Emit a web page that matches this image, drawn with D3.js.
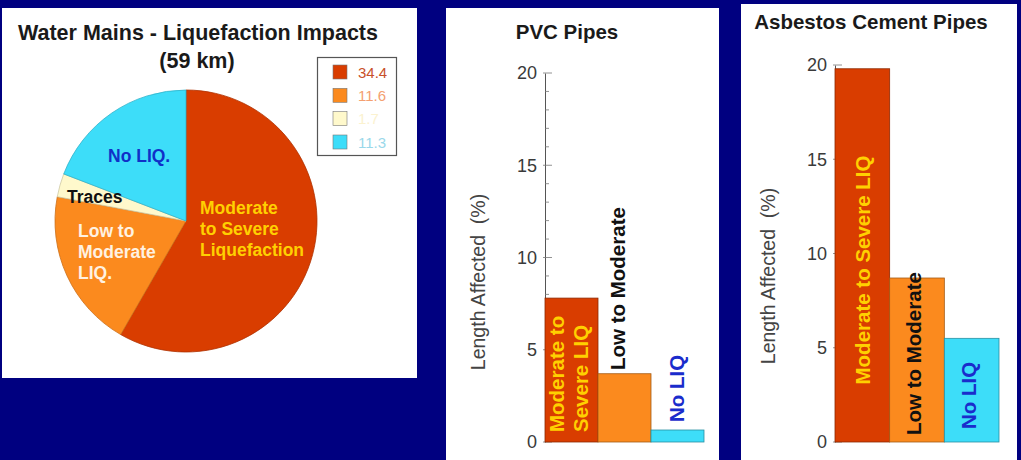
<!DOCTYPE html>
<html>
<head>
<meta charset="utf-8">
<script src="https://cdn.jsdelivr.net/npm/d3@7/dist/d3.min.js"></script>
<style>
  html, body { margin: 0; padding: 0; background: #000080; }
  svg { display: block; }
  text { font-family: "Liberation Sans", Arial, sans-serif; white-space: pre; }
</style>
</head>
<body>
<svg id="chart" width="1021" height="460"></svg>
<script>
// Water mains by liquefaction class (km of 59 km total)
const pieCategories = ["Moderate to Severe", "Low to Moderate", "Traces", "No LIQ"];
const pieValues = [34.4, 11.6, 1.7, 11.3];
const pieLegendLabels = ["34.4", "11.6", "1.7", "11.3"];

// Length affected (%) by pipe material
const barCategories = ["Moderate to Severe LIQ", "Low to Moderate", "No LIQ"];
const pvcValues = [7.8, 3.7, 0.65];
const acValues = [19.8, 8.7, 5.5];
const yTicks = [0, 5, 10, 15, 20];

const fills = ["#d93d00", "#fb8a1e", "#fff9cc", "#3dddf9"];
const legendText = ["#c8502a", "#f4a070", "#fbf2cf", "#9ad8ea"];

const svg = d3.select("#chart");

// white panels
const panels = [
  { x: 2, y: 8, w: 415, h: 370 },
  { x: 446, y: 8, w: 273, h: 460 },
  { x: 741, y: 4, w: 276, h: 460 }
];
svg.selectAll("rect.panel").data(panels).join("rect")
  .attr("class", "panel")
  .attr("x", d => d.x).attr("y", d => d.y)
  .attr("width", d => d.w).attr("height", d => d.h)
  .attr("fill", "#ffffff");

// ---------- pie ----------
const pieG = svg.append("g").attr("transform", "translate(186,221)");
const pie = d3.pie().sort(null).value(d => d)(pieValues);
const arc = d3.arc().innerRadius(0).outerRadius(131);
pieG.selectAll("path").data(pie).join("path")
  .attr("d", arc)
  .attr("fill", (d, i) => fills[i])
  .attr("stroke", (d, i) => d3.color(fills[i]).darker(0.6))
  .attr("stroke-width", 0.8);

svg.append("text").attr("x", 198).attr("y", 40).attr("text-anchor", "middle")
  .attr("font-size", 21.5).attr("font-weight", "bold").attr("fill", "#1a1a1a")
  .text("Water Mains - Liquefaction Impacts");
svg.append("text").attr("x", 197).attr("y", 68).attr("text-anchor", "middle")
  .attr("font-size", 21.5).attr("font-weight", "bold").attr("fill", "#1a1a1a")
  .text("(59 km)");

const sliceLabels = [
  { lines: ["Moderate", "to Severe", "Liquefaction"], x: 200, y: 214, color: "#ffd000" },
  { lines: ["Low to", "Moderate", "LIQ."], x: 78, y: 237, color: "#fff2e2" },
  { lines: ["Traces"], x: 67, y: 203, color: "#111111" },
  { lines: ["No LIQ."], x: 108, y: 162, color: "#1030c8" }
];
sliceLabels.forEach(s => {
  const t = svg.append("text").attr("x", s.x).attr("y", s.y)
    .attr("font-size", 17.5).attr("font-weight", "bold").attr("fill", s.color);
  s.lines.forEach((l, i) => t.append("tspan").attr("x", s.x).attr("dy", i ? 21 : 0).text(l));
});

// legend
svg.append("rect").attr("x", 317.5).attr("y", 57.5).attr("width", 79).attr("height", 98)
  .attr("fill", "#ffffff").attr("stroke", "#555").attr("stroke-width", 1.2);
const legendY = d3.scalePoint().domain(pieCategories).range([72, 142]);
const lg = svg.append("g");
lg.selectAll("rect").data(pieCategories).join("rect")
  .attr("x", 333).attr("y", d => legendY(d) - 7).attr("width", 14).attr("height", 14)
  .attr("fill", (d, i) => fills[i]).attr("stroke", "#777").attr("stroke-width", 0.6);
lg.selectAll("text").data(pieCategories).join("text")
  .attr("x", 358).attr("y", d => legendY(d) + 5.5)
  .attr("font-size", 15).attr("fill", (d, i) => legendText[i])
  .text((d, i) => pieLegendLabels[i]);

// ---------- bar charts ----------
function barChart(opts) {
  const y = d3.scaleLinear().domain([0, 20]).range([442, opts.top]);
  const x = d3.scaleBand().domain(barCategories).range([opts.x0, opts.x1]).padding(0);
  const g = svg.append("g");

  g.append("text").attr("x", opts.titleX).attr("y", opts.titleY).attr("text-anchor", "middle")
    .attr("font-size", 20.5).attr("font-weight", "bold").attr("fill", "#1a1a1a").text(opts.title);

  // axis
  const axis = d3.axisLeft(y).tickValues(yTicks).tickSize(0).tickPadding(8);
  const ag = g.append("g").attr("transform", `translate(${opts.axisX},0)`).call(axis);
  ag.select(".domain").attr("stroke", "#555").attr("stroke-width", 1);
  ag.selectAll("text").attr("font-size", 18).attr("fill", "#3a3a3a")
    .attr("font-family", "Liberation Sans, Arial, sans-serif");
  const minor = d3.range(0, 21);
  ag.selectAll("line.mt").data(minor).join("line").attr("class", "mt")
    .attr("x1", d => yTicks.includes(d) ? -2 : 0).attr("x2", d => yTicks.includes(d) ? 7 : 4)
    .attr("y1", d => y(d)).attr("y2", d => y(d))
    .attr("stroke", "#777").attr("stroke-width", 0.8);

  g.append("text")
    .attr("transform", `translate(${opts.labelX},${opts.labelY}) rotate(-90)`)
    .attr("text-anchor", "middle").attr("font-size", 19.5).attr("fill", "#444")
    .text("Length Affected  (%)");

  g.selectAll("rect.bar").data(opts.values).join("rect").attr("class", "bar")
    .attr("x", (d, i) => x(barCategories[i])).attr("width", x.bandwidth())
    .attr("y", d => y(d)).attr("height", d => y(0) - y(d))
    .attr("fill", (d, i) => fills[i === 2 ? 3 : i])
    .attr("stroke", (d, i) => d3.color(fills[i === 2 ? 3 : i]).darker(1.2))
    .attr("stroke-width", 0.8);

  const fs = 20.5;
  opts.barLabels.forEach((b, i) => {
    const cx = x(barCategories[i]) + x.bandwidth() / 2;
    b.lines.forEach((l, k) => {
      // offsets give each line's vertical-stroke centre; shift to its baseline
      const base = cx + b.offsets[k] + 0.36 * fs;
      g.append("text")
        .attr("transform", `translate(${base},${b.y}) rotate(-90)`)
        .attr("text-anchor", b.anchor).attr("font-size", fs).attr("font-weight", "bold")
        .attr("fill", b.color).text(l);
    });
  });
}

barChart({
  title: "PVC Pipes", titleX: 567, titleY: 39,
  x0: 545, x1: 704, axisX: 545, top: 73,
  labelX: 485, labelY: 282,
  values: pvcValues,
  barLabels: [
    { lines: ["Moderate to", "Severe LIQ"], offsets: [-14.5, 9.5], y: 432, anchor: "start", color: "#ffd000" },
    { lines: ["Low to Moderate"], offsets: [-6.5], y: 370, anchor: "start", color: "#111111" },
    { lines: ["No LIQ"], offsets: [-0.5], y: 422, anchor: "start", color: "#1a2ccc" }
  ]
});

barChart({
  title: "Asbestos Cement Pipes", titleX: 871, titleY: 29,
  x0: 835, x1: 999, axisX: 835, top: 65,
  labelX: 775, labelY: 276,
  values: acValues,
  barLabels: [
    { lines: ["Moderate to Severe LIQ"], offsets: [0], y: 270, anchor: "middle", color: "#ffd000" },
    { lines: ["Low to Moderate"], offsets: [-3], y: 435, anchor: "start", color: "#111111" },
    { lines: ["No LIQ"], offsets: [-3], y: 429, anchor: "start", color: "#1a2ccc" }
  ]
});
</script>
</body>
</html>
